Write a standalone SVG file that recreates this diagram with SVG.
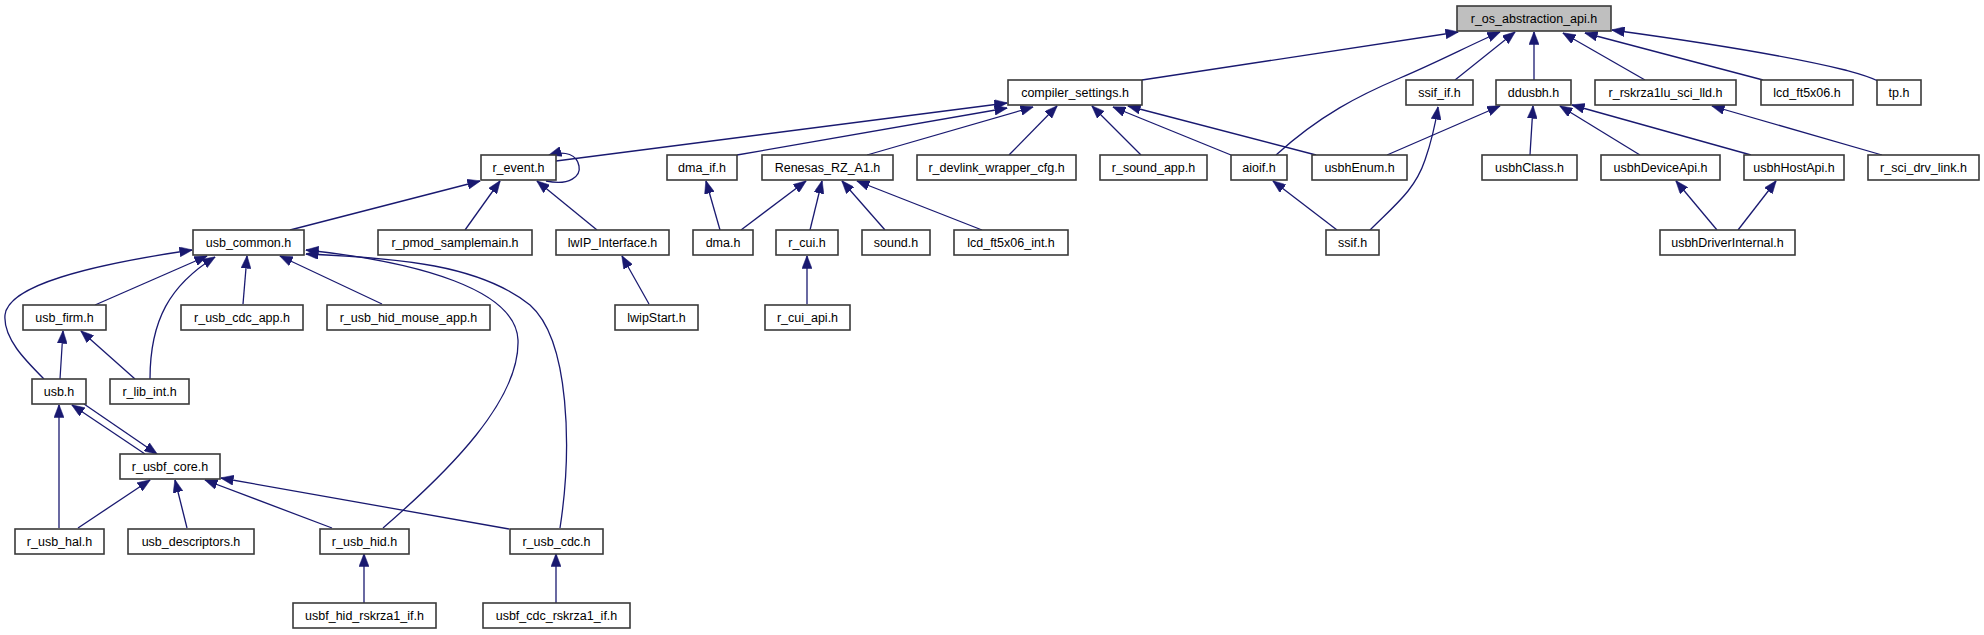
<svg xmlns="http://www.w3.org/2000/svg" width="1984" height="635" viewBox="0 0 1984 635">
<style>
.n rect{fill:#ffffff;stroke:#3a3a3a;stroke-width:1.6}
.n.root rect{fill:#bfbfbf}
.n text{font-family:"Liberation Sans",Arial,sans-serif;font-size:12.5px;fill:#000;text-anchor:middle}
.e path{fill:none;stroke:#191970;stroke-width:1.3;marker-end:url(#ah)}
</style>
<defs>
<marker id="ah" markerUnits="userSpaceOnUse" viewBox="0 0 13 10" refX="12.5" refY="5" markerWidth="13" markerHeight="10" orient="auto">
<path d="M0,0 L13,5 L0,10 Z" fill="#191970" stroke="#191970" stroke-width="0.5"/>
</marker>
</defs>
<rect width="1984" height="635" fill="#ffffff"/>
<g id="connectors" class="e">
<path d="M1142,80 L1458,32"/>
<path d="M1276,155 C1320,115 1360,95 1400,78 S1470,45 1500,32"/>
<path d="M1455,80 L1515,32"/>
<path d="M1534,80 L1534,32"/>
<path d="M1645,80 L1563,33"/>
<path d="M1763,80 L1585,33"/>
<path d="M1878,81 C1868,76 1860,74 1845,70 C1780,54 1700,42 1612,30"/>
<path d="M556,161 L1007,103"/>
<path d="M737,155 L1007,108"/>
<path d="M867,155 L1033,107"/>
<path d="M1009,155 L1057,106"/>
<path d="M1141,155 L1092,106"/>
<path d="M1231,155 L1113,107"/>
<path d="M1316,155 L1128,106"/>
<path d="M290,230 L480,181"/>
<path d="M465,230 L500,181"/>
<path d="M597,230 L537,181"/>
<path d="M546,181 C570,186 581,176 579,166 C577,155 566,150 549,155"/>
<path d="M720,230 L706,181"/>
<path d="M741,230 L806,181"/>
<path d="M810,230 L822,181"/>
<path d="M885,230 L842,181"/>
<path d="M982,230 L857,181"/>
<path d="M807,304 L807,256"/>
<path d="M649,304 L622,256"/>
<path d="M1337,230 L1273,181"/>
<path d="M1370,230 C1395,205 1415,190 1425,160 C1432,140 1436,120 1438,107"/>
<path d="M1387,155 L1500,106"/>
<path d="M1530,155 L1533,106"/>
<path d="M1640,155 L1560,106"/>
<path d="M1751,155 L1572,105"/>
<path d="M1882,155 L1712,106"/>
<path d="M1717,230 L1676,181"/>
<path d="M1738,230 L1776,181"/>
<path d="M95,305 L207,256"/>
<path d="M44,379 C25,360 3,338 5,315 C8,285 90,265 192,250"/>
<path d="M150,379 C150,320 170,285 215,257"/>
<path d="M243,304 L247,256"/>
<path d="M382,304 L280,256"/>
<path d="M383,528 C450,470 520,400 518,340 C516,290 420,262 306,250"/>
<path d="M560,528 C572,450 570,340 530,305 C480,265 400,258 306,254"/>
<path d="M60,379 L63,331"/>
<path d="M135,379 L81,331"/>
<path d="M145,454 L72,405"/>
<path d="M84,404 L157,454"/>
<path d="M59,528 L59,405"/>
<path d="M78,528 L150,480"/>
<path d="M187,528 L175,480"/>
<path d="M332,528 L205,480"/>
<path d="M509,529 L221,478"/>
<path d="M364,603 L364,554"/>
<path d="M556,603 L556,554"/>
</g>
<g id="n_r_os_abstraction_api" class="n root"><rect x="1457" y="6" width="154" height="25"/><text x="1534" y="23">r_os_abstraction_api.h</text></g>
<g id="n_compiler_settings" class="n"><rect x="1008" y="80" width="134" height="25"/><text x="1075" y="97">compiler_settings.h</text></g>
<g id="n_ssif_if" class="n"><rect x="1406" y="80" width="67" height="25"/><text x="1439.5" y="97">ssif_if.h</text></g>
<g id="n_ddusbh" class="n"><rect x="1496" y="80" width="75" height="25"/><text x="1533.5" y="97">ddusbh.h</text></g>
<g id="n_r_rskrza1lu_sci_lld" class="n"><rect x="1595" y="80" width="141" height="25"/><text x="1665.5" y="97">r_rskrza1lu_sci_lld.h</text></g>
<g id="n_lcd_ft5x06" class="n"><rect x="1761" y="80" width="92" height="25"/><text x="1807" y="97">lcd_ft5x06.h</text></g>
<g id="n_tp" class="n"><rect x="1877" y="80" width="44" height="25"/><text x="1899" y="97">tp.h</text></g>
<g id="n_r_event" class="n"><rect x="481" y="155" width="75" height="25"/><text x="518.5" y="172">r_event.h</text></g>
<g id="n_dma_if" class="n"><rect x="667" y="155" width="70" height="25"/><text x="702" y="172">dma_if.h</text></g>
<g id="n_Renesas_RZ_A1" class="n"><rect x="762" y="155" width="131" height="25"/><text x="827.5" y="172">Renesas_RZ_A1.h</text></g>
<g id="n_r_devlink_wrapper_cfg" class="n"><rect x="917" y="155" width="159" height="25"/><text x="996.5" y="172">r_devlink_wrapper_cfg.h</text></g>
<g id="n_r_sound_app" class="n"><rect x="1100" y="155" width="107" height="25"/><text x="1153.5" y="172">r_sound_app.h</text></g>
<g id="n_aioif" class="n"><rect x="1231" y="155" width="56" height="25"/><text x="1259" y="172">aioif.h</text></g>
<g id="n_usbhEnum" class="n"><rect x="1312" y="155" width="95" height="25"/><text x="1359.5" y="172">usbhEnum.h</text></g>
<g id="n_usbhClass" class="n"><rect x="1482" y="155" width="95" height="25"/><text x="1529.5" y="172">usbhClass.h</text></g>
<g id="n_usbhDeviceApi" class="n"><rect x="1601" y="155" width="119" height="25"/><text x="1660.5" y="172">usbhDeviceApi.h</text></g>
<g id="n_usbhHostApi" class="n"><rect x="1744" y="155" width="100" height="25"/><text x="1794" y="172">usbhHostApi.h</text></g>
<g id="n_r_sci_drv_link" class="n"><rect x="1868" y="155" width="111" height="25"/><text x="1923.5" y="172">r_sci_drv_link.h</text></g>
<g id="n_usb_common" class="n"><rect x="193" y="230" width="111" height="25"/><text x="248.5" y="247">usb_common.h</text></g>
<g id="n_r_pmod_samplemain" class="n"><rect x="378" y="230" width="154" height="25"/><text x="455" y="247">r_pmod_samplemain.h</text></g>
<g id="n_lwIP_Interface" class="n"><rect x="556" y="230" width="113" height="25"/><text x="612.5" y="247">lwIP_Interface.h</text></g>
<g id="n_dma" class="n"><rect x="693" y="230" width="60" height="25"/><text x="723" y="247">dma.h</text></g>
<g id="n_r_cui" class="n"><rect x="776" y="230" width="62" height="25"/><text x="807" y="247">r_cui.h</text></g>
<g id="n_sound" class="n"><rect x="862" y="230" width="68" height="25"/><text x="896" y="247">sound.h</text></g>
<g id="n_lcd_ft5x06_int" class="n"><rect x="954" y="230" width="114" height="25"/><text x="1011" y="247">lcd_ft5x06_int.h</text></g>
<g id="n_ssif" class="n"><rect x="1326" y="230" width="53" height="25"/><text x="1352.5" y="247">ssif.h</text></g>
<g id="n_usbhDriverInternal" class="n"><rect x="1660" y="230" width="135" height="25"/><text x="1727.5" y="247">usbhDriverInternal.h</text></g>
<g id="n_usb_firm" class="n"><rect x="23" y="305" width="83" height="25"/><text x="64.5" y="322">usb_firm.h</text></g>
<g id="n_r_usb_cdc_app" class="n"><rect x="181" y="305" width="122" height="25"/><text x="242" y="322">r_usb_cdc_app.h</text></g>
<g id="n_r_usb_hid_mouse_app" class="n"><rect x="327" y="305" width="163" height="25"/><text x="408.5" y="322">r_usb_hid_mouse_app.h</text></g>
<g id="n_lwipStart" class="n"><rect x="615" y="305" width="83" height="25"/><text x="656.5" y="322">lwipStart.h</text></g>
<g id="n_r_cui_api" class="n"><rect x="765" y="305" width="85" height="25"/><text x="807.5" y="322">r_cui_api.h</text></g>
<g id="n_usb" class="n"><rect x="32" y="379" width="54" height="25"/><text x="59" y="396">usb.h</text></g>
<g id="n_r_lib_int" class="n"><rect x="110" y="379" width="79" height="25"/><text x="149.5" y="396">r_lib_int.h</text></g>
<g id="n_r_usbf_core" class="n"><rect x="120" y="454" width="100" height="25"/><text x="170" y="471">r_usbf_core.h</text></g>
<g id="n_r_usb_hal" class="n"><rect x="15" y="529" width="89" height="25"/><text x="59.5" y="546">r_usb_hal.h</text></g>
<g id="n_usb_descriptors" class="n"><rect x="128" y="529" width="126" height="25"/><text x="191" y="546">usb_descriptors.h</text></g>
<g id="n_r_usb_hid" class="n"><rect x="320" y="529" width="89" height="25"/><text x="364.5" y="546">r_usb_hid.h</text></g>
<g id="n_r_usb_cdc" class="n"><rect x="510" y="529" width="93" height="25"/><text x="556.5" y="546">r_usb_cdc.h</text></g>
<g id="n_usbf_hid_rskrza1_if" class="n"><rect x="293" y="603" width="143" height="25"/><text x="364.5" y="620">usbf_hid_rskrza1_if.h</text></g>
<g id="n_usbf_cdc_rskrza1_if" class="n"><rect x="483" y="603" width="147" height="25"/><text x="556.5" y="620">usbf_cdc_rskrza1_if.h</text></g>
</svg>
